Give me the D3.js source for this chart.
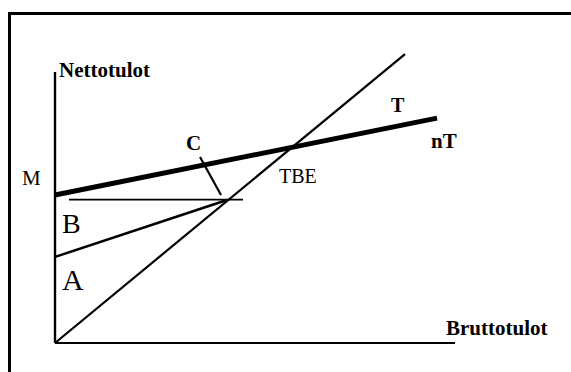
<!DOCTYPE html>
<html>
<head>
<meta charset="utf-8">
<script src="https://cdn.jsdelivr.net/npm/d3@7"></script>
<style>
  body { margin: 0; background: #fff; }
  svg { display: block; }
  text { font-family: "Liberation Serif", "Times New Roman", serif; fill: #000; }
</style>
</head>
<body>
<svg id="chart" width="571" height="372"></svg>
<script>
// data in abstract units: x = gross income (0..100), y = net income (0..100)
const axisX = [[0, 0], [100, 0]];
const axisY = [[0, 0], [0, 100.4]];
const lineT = [[0, 0], [87.5, 107]];          // line T
const lineNT = [[0, 54.8], [95.5, 83.3]];      // thick line nT
const lineAB = [[0, 31.9], [43, 53]];          // boundary between A and B
const lineLevel = [[3.5, 53.1], [47, 53.1]];   // horizontal level line
const lineC = [[36.25, 68.9], [41.5, 54.8]];   // short segment C

const labels = [
  { text: "Nettotulot", x: 59, y: 77, bold: true, size: 21 },
  { text: "Bruttotulot", x: 446, y: 335, bold: true, size: 21 },
  { text: "M", x: 22, y: 185, bold: false, size: 21 },
  { text: "C", x: 186, y: 150, bold: true, size: 21 },
  { text: "T", x: 391, y: 112, bold: true, size: 20 },
  { text: "nT", x: 431, y: 148, bold: true, size: 21 },
  { text: "TBE", x: 279, y: 183, bold: false, size: 20 },
  { text: "B", x: 62, y: 233, bold: false, size: 28 },
  { text: "A", x: 62, y: 290, bold: false, size: 30 }
];

const svg = d3.select("#chart");

// frame (right and bottom edges fall outside the picture)
svg.append("rect")
  .attr("x", 9.5).attr("y", 13.5)
  .attr("width", 700).attr("height", 500)
  .attr("fill", "none").attr("stroke", "#000").attr("stroke-width", 3);

const x = d3.scaleLinear().domain([0, 100]).range([55, 455]);
const y = d3.scaleLinear().domain([0, 100]).range([343, 73]);

const line = d3.line().x(d => x(d[0])).y(d => y(d[1]));

const segments = [
  { pts: axisX, w: 2.2 },
  { pts: axisY, w: 2.4 },
  { pts: lineT, w: 2.2 },
  { pts: lineNT, w: 5 },
  { pts: lineAB, w: 2.6 },
  { pts: lineLevel, w: 1.6 },
  { pts: lineC, w: 2.2 }
];

svg.append("g")
  .selectAll("path")
  .data(segments)
  .join("path")
  .attr("fill", "none")
  .attr("stroke", "#000")
  .attr("stroke-width", d => d.w)
  .attr("d", d => line(d.pts));

svg.append("g")
  .selectAll("text")
  .data(labels)
  .join("text")
  .attr("x", d => d.x)
  .attr("y", d => d.y)
  .attr("font-size", d => d.size)
  .attr("font-weight", d => d.bold ? "bold" : "normal")
  .text(d => d.text);
</script>
</body>
</html>
